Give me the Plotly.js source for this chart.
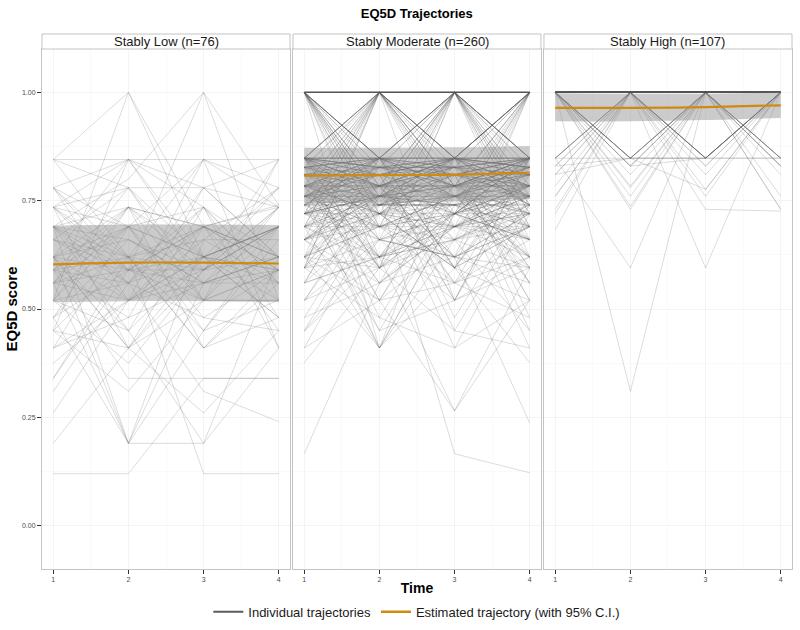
<!DOCTYPE html>
<html><head><meta charset="utf-8">
<script src="https://cdn.plot.ly/plotly-3.0.1.min.js"></script>
<style>body{margin:0;background:#fff}#chart{width:800px;height:630px}</style>
</head><body><div id="chart"></div>
<script>
const timePoints = [1, 2, 3, 4];
const panelTitles = ["Stably Low (n=76)", "Stably Moderate (n=260)", "Stably High (n=107)"];
const yTickVals = [0, 0.25, 0.5, 0.75, 1.0];

// Individual trajectories (EQ5D at times 1..4)
const lowTraj = [
[0.845,1.00,0.62,0.78],[0.52,1.00,0.69,0.45],[0.69,0.80,1.00,0.52],[0.62,0.59,1.00,0.74],
[0.845,0.845,0.845,0.845],[0.845,0.78,0.52,0.69],[0.78,0.845,0.78,0.62],[0.735,0.845,0.59,0.845],
[0.62,0.845,0.735,0.48],[0.45,0.845,0.62,0.59],[0.78,0.69,0.845,0.735],[0.69,0.52,0.845,0.41],
[0.56,0.62,0.845,0.78],[0.41,0.69,0.52,0.845],[0.59,0.48,0.78,0.845],[0.735,0.78,0.78,0.735],
[0.78,0.62,0.41,0.59],[0.52,0.735,0.69,0.62],[0.69,0.735,0.52,0.735],[0.62,0.69,0.62,0.69],
[0.735,0.59,0.735,0.56],[0.59,0.56,0.69,0.52],[0.56,0.52,0.59,0.69],[0.48,0.59,0.56,0.62],
[0.69,0.45,0.62,0.59],[0.62,0.41,0.59,0.735],[0.45,0.62,0.45,0.69],[0.52,0.45,0.735,0.56],
[0.56,0.69,0.48,0.45],[0.735,0.56,0.62,0.48],[0.41,0.52,0.69,0.62],[0.59,0.735,0.41,0.56],
[0.66,0.62,0.66,0.66],[0.62,0.66,0.56,0.59],[0.69,0.59,0.59,0.69],[0.78,0.52,0.56,0.62],
[0.845,0.62,0.69,0.74],[0.66,0.78,0.62,0.52],[0.48,0.66,0.59,0.735],[0.56,0.59,0.52,0.59],
[0.375,0.52,0.62,0.48],[0.34,0.59,0.69,0.62],[0.45,0.41,0.52,0.52],[0.52,0.375,0.59,0.69],
[0.31,0.56,0.48,0.59],[0.62,0.19,0.56,0.62],[0.69,0.19,0.66,0.56],[0.56,0.19,0.45,0.52],
[0.48,0.19,0.19,0.62],[0.19,0.41,0.69,0.735],[0.26,0.52,0.62,0.69],[0.12,0.12,0.34,0.34],
[0.34,0.62,0.12,0.12],[0.59,0.34,0.34,0.34],[0.735,0.41,0.26,0.45],[0.62,0.45,0.19,0.41],
[0.45,0.31,0.52,0.59],[0.69,0.56,0.31,0.24],[0.52,0.69,0.735,0.41],[0.59,0.62,0.59,0.78],
[0.735,0.69,0.62,0.69],[0.62,0.735,0.69,0.59],[0.66,0.56,0.735,0.62],[0.56,0.78,0.56,0.735],
[0.78,0.59,0.62,0.69],[0.69,0.66,0.56,0.56],[0.62,0.52,0.66,0.78],[0.59,0.69,0.45,0.66],
[0.735,0.62,0.52,0.52],[0.48,0.735,0.62,0.69],[0.66,0.59,0.69,0.59],[0.52,0.56,0.78,0.62],
[0.69,0.62,0.41,0.48],[0.41,0.48,0.56,0.69],[0.62,0.41,0.62,0.56],[0.56,0.735,0.59,0.62]
];

const moderateTraj = [
[1,1,1,1],[1,1,1,1],[1,1,1,1],[1,1,1,1],[1,1,1,1],[1,1,1,1],[1,1,1,1],[1,1,1,1],
[1,1,1,1],[1,1,1,1],[1,1,1,1],[1,1,1,1],[1,1,1,1],[1,1,1,1],
[1,0.848,1,0.848],[0.848,1,0.848,1],[1,0.848,0.848,1],[0.848,1,1,0.848],[1,1,0.848,0.848],
[0.848,0.848,1,1],[1,0.827,1,1],[1,1,0.827,1],[0.827,1,1,0.827],[1,0.784,1,0.848],
[0.784,1,0.848,1],[1,0.848,0.784,1],[0.848,1,0.784,0.848],[1,0.81,0.848,1],[0.81,1,1,0.81],
[1,1,1,0.848],[0.848,1,1,1],[1,0.848,1,1],[1,1,0.848,1],[1,0.76,1,0.784],[0.76,1,0.784,1],
[1,0.72,0.848,1],[0.72,1,0.76,0.848],[1,0.848,0.72,1],[0.848,0.784,1,0.74],[1,0.69,1,0.848],
[0.69,1,0.848,1],[1,0.62,0.848,1],[0.62,1,0.81,0.848],[0.595,1,0.848,0.784],[1,0.784,0.62,1],
[0.848,0.595,1,0.848],[1,0.848,0.595,0.848],[0.784,0.848,1,0.62],[1,0.76,0.848,0.56],
[0.56,0.848,1,0.76],[1,0.848,0.76,0.66],[0.66,0.76,1,0.848],[1,0.41,0.848,1],[0.848,1,0.52,0.848],
[0.74,0.848,1,0.69],[1,0.74,0.848,0.74],
[1,0.848,0.848,0.848],[0.848,1,0.848,0.848],[0.848,0.848,1,0.848],[0.848,0.848,0.848,1],
[1,0.827,0.848,0.827],[0.827,1,0.827,0.848],[0.848,0.827,1,0.827],[0.827,0.848,0.827,1],
[1,0.784,0.784,0.848],[0.784,1,0.784,0.784],[0.784,0.784,1,0.784],[0.848,0.784,0.784,1],
[1,0.76,0.81,0.76],[0.76,1,0.76,0.81],[0.81,0.76,1,0.76],[0.76,0.81,0.76,1],
[1,0.74,0.74,0.81],[0.74,1,0.74,0.74],[0.74,0.74,1,0.74],[0.81,0.74,0.74,1],
[1,0.72,0.784,0.72],[0.72,1,0.72,0.784],[0.784,0.72,1,0.72],[0.72,0.784,0.72,1],
[1,0.69,0.76,0.69],[0.69,1,0.69,0.76],[0.76,0.69,1,0.69],[0.69,0.76,0.69,1],
[1,0.66,0.72,0.848],[0.66,1,0.848,0.66],[0.848,0.66,1,0.72],[0.72,0.848,0.66,1],
[1,0.595,0.69,0.784],[0.595,1,0.784,0.69],[0.784,0.595,1,0.66],[0.66,0.784,0.595,1],
[0.848,0.848,0.848,0.848],[0.848,0.827,0.848,0.827],[0.827,0.848,0.827,0.848],[0.848,0.784,0.848,0.784],
[0.784,0.848,0.784,0.848],[0.827,0.827,0.827,0.827],[0.784,0.784,0.784,0.784],[0.848,0.76,0.784,0.848],
[0.76,0.784,0.848,0.76],[0.81,0.848,0.76,0.81],[0.74,0.81,0.848,0.784],[0.848,0.74,0.81,0.848],
[0.72,0.848,0.784,0.81],[0.81,0.72,0.848,0.74],[0.784,0.76,0.72,0.848],[0.69,0.784,0.848,0.76],
[0.848,0.69,0.76,0.81],[0.76,0.848,0.69,0.784],[0.66,0.76,0.81,0.848],[0.848,0.81,0.66,0.76],
[0.62,0.784,0.848,0.81],[0.81,0.62,0.784,0.848],[0.784,0.848,0.62,0.72],[0.72,0.74,0.848,0.62],
[0.595,0.81,0.76,0.848],[0.848,0.595,0.81,0.76],[0.76,0.848,0.595,0.81],[0.81,0.76,0.848,0.595],
[0.56,0.72,0.81,0.784],[0.784,0.56,0.72,0.848],[0.848,0.784,0.56,0.74],[0.74,0.848,0.784,0.56],
[0.52,0.76,0.848,0.81],[0.81,0.52,0.784,0.76],[0.76,0.81,0.52,0.848],[0.848,0.74,0.81,0.52],
[0.69,0.69,0.76,0.74],[0.74,0.69,0.69,0.76],[0.76,0.74,0.69,0.69],[0.69,0.76,0.74,0.69],
[0.66,0.72,0.784,0.72],[0.72,0.66,0.72,0.784],[0.784,0.72,0.66,0.72],[0.72,0.784,0.72,0.66],
[0.62,0.69,0.74,0.76],[0.76,0.62,0.69,0.74],[0.74,0.76,0.62,0.69],[0.69,0.74,0.76,0.62],
[0.81,0.81,0.81,0.81],[0.76,0.76,0.76,0.76],[0.74,0.74,0.74,0.74],[0.72,0.72,0.72,0.72],
[0.848,0.81,0.848,0.81],[0.81,0.848,0.81,0.848],[0.827,0.784,0.827,0.784],[0.784,0.827,0.784,0.827],
[0.848,0.76,0.848,0.76],[0.76,0.848,0.76,0.848],[0.827,0.72,0.827,0.74],[0.74,0.827,0.72,0.827],
[0.848,0.69,0.848,0.69],[0.69,0.848,0.69,0.848],[0.827,0.66,0.784,0.827],[0.66,0.827,0.827,0.784],
[0.848,0.62,0.76,0.827],[0.62,0.848,0.827,0.74],[0.784,0.62,0.848,0.827],[0.827,0.784,0.62,0.848],
[0.848,0.827,0.784,0.62],[0.595,0.827,0.848,0.784],[0.827,0.595,0.784,0.848],[0.784,0.848,0.595,0.827],
[0.848,0.784,0.827,0.595],[0.56,0.848,0.827,0.81],[0.81,0.56,0.848,0.827],[0.827,0.81,0.56,0.848],
[0.848,0.827,0.81,0.56],[0.52,0.784,0.848,0.827],[0.827,0.52,0.81,0.784],[0.784,0.827,0.52,0.81],
[0.81,0.784,0.827,0.52],[0.48,0.76,0.827,0.848],[0.848,0.48,0.76,0.827],[0.827,0.848,0.48,0.76],
[0.76,0.827,0.848,0.48],[0.45,0.74,0.784,0.81],[0.81,0.45,0.74,0.784],[0.784,0.81,0.45,0.74],
[0.74,0.784,0.81,0.45],[0.41,0.72,0.76,0.784],[0.784,0.41,0.72,0.76],[0.76,0.784,0.41,0.72],
[0.72,0.76,0.784,0.41],[0.848,0.848,0.784,0.784],[0.784,0.784,0.848,0.848],[0.827,0.848,0.848,0.827],
[0.848,0.827,0.827,0.848],[0.81,0.784,0.784,0.81],[0.784,0.81,0.81,0.784],[0.76,0.827,0.827,0.76],
[0.827,0.76,0.76,0.827],[0.74,0.848,0.848,0.74],[0.848,0.74,0.74,0.848],[0.72,0.81,0.848,0.827],
[0.827,0.848,0.81,0.72],[0.69,0.827,0.81,0.848],[0.848,0.81,0.827,0.69],[0.66,0.784,0.827,0.81],
[0.81,0.827,0.784,0.66],[0.62,0.76,0.784,0.827],[0.827,0.784,0.76,0.62],[0.595,0.74,0.81,0.76],
[0.76,0.81,0.74,0.595],[0.848,0.66,0.62,0.72],[0.72,0.62,0.66,0.848],[0.69,0.595,0.72,0.784],
[0.784,0.72,0.595,0.69],[0.66,0.56,0.69,0.76],[0.76,0.69,0.56,0.66],[0.62,0.52,0.66,0.74],
[0.74,0.66,0.52,0.62],[0.595,0.66,0.62,0.69],[0.69,0.62,0.66,0.595],[0.56,0.62,0.69,0.72],
[0.72,0.69,0.62,0.56],[0.52,0.595,0.72,0.66],[0.66,0.72,0.595,0.52],[0.45,0.66,0.69,0.62],
[0.62,0.69,0.66,0.45],[0.48,0.56,0.62,0.595],[0.595,0.62,0.56,0.48],
[0.848,0.848,0.81,0.81],[0.81,0.81,0.848,0.848],[0.827,0.81,0.827,0.81],[0.81,0.827,0.81,0.827],
[0.784,0.76,0.784,0.76],[0.76,0.784,0.76,0.784],[0.848,0.827,0.76,0.76],[0.76,0.76,0.827,0.848],
[0.784,0.74,0.76,0.72],[0.72,0.76,0.74,0.784],[0.81,0.69,0.72,0.76],[0.76,0.72,0.69,0.81],
[0.66,0.74,0.76,0.72],[0.72,0.76,0.74,0.66],[0.848,0.72,0.69,0.66],[0.66,0.69,0.72,0.848],
[0.62,0.72,0.74,0.69],
[0.166,0.56,0.69,0.72],[0.72,0.76,0.166,0.122],[0.62,0.41,0.66,0.74],[0.76,0.41,0.72,0.62],
[0.69,0.41,0.595,0.69],[0.56,0.62,0.265,0.52],[0.66,0.52,0.265,0.595],[0.448,0.62,0.72,0.66],
[0.52,0.66,0.62,0.237],[0.69,0.72,0.595,0.376],[0.41,0.52,0.56,0.62],[0.376,0.595,0.66,0.69],
[0.74,0.45,0.52,0.595],[0.62,0.595,0.45,0.41],[0.595,0.48,0.41,0.52]
];

const highTraj = [
[1,1,1,1],[1,1,1,1],[1,1,1,1],[1,1,1,1],[1,1,1,1],[1,1,1,1],[1,1,1,1],[1,1,1,1],[1,1,1,1],[1,1,1,1],
[1,1,1,1],[1,1,1,1],[1,1,1,1],[1,1,1,1],[1,1,1,1],[1,1,1,1],[1,1,1,1],[1,1,1,1],[1,1,1,1],[1,1,1,1],
[1,1,1,1],[1,1,1,1],[1,1,1,1],[1,1,1,1],[1,1,1,1],[1,1,1,1],[1,1,1,1],[1,1,1,1],[1,1,1,1],[1,1,1,1],
[1,1,1,1],[1,1,1,1],[1,1,1,1],[1,1,1,1],[1,1,1,1],[1,1,1,1],[1,1,1,1],[1,1,1,1],[1,1,1,1],[1,1,1,1],
[1,1,1,1],[1,1,1,1],[1,1,1,1],[1,1,1,1],[1,1,1,1],[1,1,1,1],[1,1,1,1],[1,1,1,1],[1,1,1,1],[1,1,1,1],
[1,0.848,1,1],[1,1,0.848,1],[1,1,1,0.848],[0.848,1,1,1],[1,0.848,1,0.848],[0.848,1,0.848,1],
[1,0.83,1,1],[1,1,0.83,1],[1,1,1,0.83],[0.83,1,1,1],[1,0.83,1,0.83],[0.83,1,0.848,1],
[1,0.848,0.848,1],[1,1,0.81,1],[0.81,0.848,1,1],[1,0.784,1,1],[1,1,0.776,1],[0.784,1,1,0.848],
[1,0.737,1,1],[1,1,0.73,0.726],[0.73,1,1,1],[0.683,1,1,0.848],[1,0.78,1,0.73],[0.848,0.595,1,1],
[1,1,0.595,1],[1,0.31,1,1],[0.76,1,0.848,1],[1,0.848,0.848,0.848],[0.848,1,1,0.83],[1,0.83,0.848,1],
[0.848,0.848,1,1],[1,1,0.848,0.848],[0.81,1,1,1],[1,0.81,1,1],[1,1,1,0.81],[0.76,1,1,1],
[1,0.76,1,1],[1,1,0.76,1],[1,1,1,0.76],[0.72,1,1,1],[1,1,1,0.73],[1,0.73,1,0.848],
[0.83,0.848,0.848,1],[1,0.848,1,1],[1,1,0.848,1],[0.848,1,1,1],[1,0.83,1,1],[1,1,0.83,1],
[1,0.848,0.776,1],[0.81,1,0.848,1],[1,1,1,0.848],[1,0.848,1,1],[1,1,0.848,1],[0.848,1,1,1],
[1,1,1,0.83]
];

// Estimated trajectories with 95% CI
const lowEst = [0.603, 0.607, 0.607, 0.605];
const lowLower = [0.516, 0.518, 0.518, 0.516];
const lowUpper = [0.692, 0.695, 0.695, 0.694];
const moderateEst = [0.808, 0.809, 0.810, 0.815];
const moderateLower = [0.744, 0.746, 0.748, 0.754];
const moderateUpper = [0.872, 0.872, 0.873, 0.876];
const highEst = [0.964, 0.964, 0.966, 0.970];
const highLower = [0.933, 0.933, 0.936, 0.941];
const highUpper = [0.998, 0.997, 0.997, 1.0];

const traces = [];
function addPanel(rows, est, lo, hi, xa, ya) {
  rows.forEach(r => traces.push({
    x: timePoints, y: r, xaxis: xa, yaxis: ya, type: 'scatter', mode: 'lines',
    line: {color: 'rgba(85,85,85,0.3)', width: 0.7}, hoverinfo: 'skip', showlegend: false
  }));
  traces.push({x: timePoints, y: lo, xaxis: xa, yaxis: ya, type: 'scatter', mode: 'lines',
    line: {width: 0, shape: 'spline'}, hoverinfo: 'skip', showlegend: false});
  traces.push({x: timePoints, y: hi, xaxis: xa, yaxis: ya, type: 'scatter', mode: 'lines',
    fill: 'tonexty', fillcolor: 'rgba(140,140,140,0.45)',
    line: {width: 0, shape: 'spline'}, hoverinfo: 'skip', showlegend: false});
  traces.push({x: timePoints, y: est, xaxis: xa, yaxis: ya, type: 'scatter', mode: 'lines',
    line: {color: '#D08A0C', width: 2.2, shape: 'spline'}, hoverinfo: 'skip', showlegend: false});
}
addPanel(lowTraj, lowEst, lowLower, lowUpper, 'x', 'y');
addPanel(moderateTraj, moderateEst, moderateLower, moderateUpper, 'x2', 'y2');
addPanel(highTraj, highEst, highLower, highUpper, 'x3', 'y3');

traces.push({x: [null], y: [null], type: 'scatter', mode: 'lines', name: 'Individual trajectories',
  line: {color: '#5a5a5a', width: 2}, showlegend: true});
traces.push({x: [null], y: [null], type: 'scatter', mode: 'lines', name: 'Estimated trajectory (with 95% C.I.)',
  line: {color: '#D08A0C', width: 2.5}, showlegend: true});

const domains = [[0, 0.3307], [0.3347, 0.6653], [0.6693, 1]];
const font = 'Liberation Sans, Arial, sans-serif';

function xAxis(i, anchor) {
  return {
    domain: domains[i], anchor: anchor, range: [0.85, 4.15], automargin: false,
    tickvals: timePoints, ticktext: timePoints.map(String),
    ticks: 'outside', ticklen: 4, tickcolor: '#333', tickwidth: 1,
    tickfont: {size: 7, color: '#4d4d4d', family: font},
    showgrid: true, gridcolor: '#ececec', gridwidth: 0.6,
    minor: {tickvals: [1.5, 2.5, 3.5], showgrid: true, gridcolor: '#f6f6f6', gridwidth: 0.5, ticks: ''},
    zeroline: false, showline: true, mirror: true, linecolor: '#c4c4c4', linewidth: 1,
    fixedrange: true
  };
}
function yAxis(anchor, labels) {
  return {
    anchor: anchor, range: [-0.1, 1.1], tickvals: yTickVals, automargin: false,
    ticktext: yTickVals.map(v => v.toFixed(2)),
    showticklabels: labels, ticks: labels ? 'outside' : '', ticklen: 4, tickcolor: '#333', tickwidth: 1,
    tickfont: {size: 7, color: '#4d4d4d', family: font},
    showgrid: true, gridcolor: '#ececec', gridwidth: 0.6,
    minor: {tickvals: [-0.125, 0.125, 0.375, 0.625, 0.875], showgrid: true, gridcolor: '#f6f6f6', gridwidth: 0.5, ticks: ''},
    zeroline: false, showline: true, mirror: true, linecolor: '#c4c4c4', linewidth: 1,
    fixedrange: true
  };
}

const xa1 = xAxis(0, 'y');
const xa2 = xAxis(1, 'y2');
xa2.title = {text: 'Time', font: {size: 14, family: font, color: '#000', weight: 'bold'}, standoff: 0};
const xa3 = xAxis(2, 'y3');
const ya1 = yAxis('x', true);
ya1.title = {text: 'EQ5D score', font: {size: 15, family: font, color: '#000', weight: 'bold'}, standoff: 0};
const ya2 = yAxis('x2', false);
const ya3 = yAxis('x3', false);

const stripTop = 1 + 15 / 520;
const shapes = domains.map(d => ({
  type: 'rect', xref: 'paper', yref: 'paper', x0: d[0], x1: d[1], y0: 1, y1: stripTop,
  line: {color: '#c4c4c4', width: 1}, fillcolor: '#ffffff', layer: 'above'
}));
const annotations = domains.map((d, i) => ({
  xref: 'paper', yref: 'paper', x: (d[0] + d[1]) / 2, y: (1 + stripTop) / 2,
  xanchor: 'center', yanchor: 'middle', showarrow: false, text: panelTitles[i],
  font: {size: 13, family: font, color: '#1a1a1a'}
}));

const layout = {
  width: 800, height: 630,
  margin: {l: 42, r: 8, t: 49, b: 61},
  paper_bgcolor: '#ffffff', plot_bgcolor: '#ffffff',
  title: {text: 'EQ5D Trajectories', font: {size: 13, family: font, color: '#000', weight: 'bold'},
    x: 0.521, xanchor: 'center', y: 0.979, yanchor: 'middle'},
  xaxis: xa1, xaxis2: xa2, xaxis3: xa3,
  yaxis: ya1, yaxis2: ya2, yaxis3: ya3,
  shapes: shapes, annotations: annotations,
  showlegend: true,
  legend: {orientation: 'h', traceorder: 'normal', x: 0.521, xref: 'container', xanchor: 'center',
    y: 0.029, yref: 'container', yanchor: 'middle',
    font: {size: 13, family: font, color: '#1a1a1a'}, itemwidth: 30, tracegroupgap: 0, bgcolor: 'rgba(0,0,0,0)'},
  hovermode: false
};

Plotly.newPlot('chart', traces, layout, {displayModeBar: false, staticPlot: true});
</script>
</body></html>
